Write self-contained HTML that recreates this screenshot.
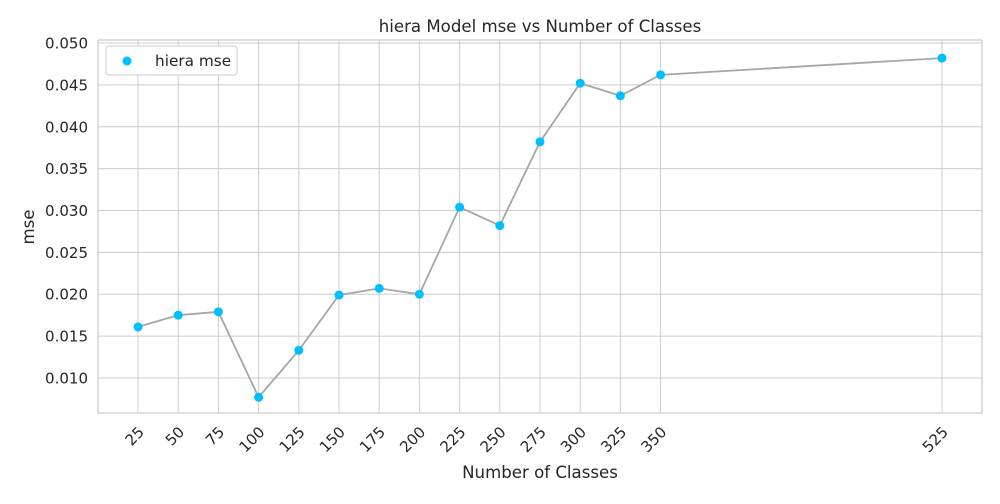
<!DOCTYPE html>
<html><head><meta charset="utf-8"><style>
body{margin:0;background:#fff;font-family:"DejaVu Sans","Liberation Sans",sans-serif;}
</style></head><body>
<svg id="chart" width="1000" height="500" xmlns="http://www.w3.org/2000/svg" font-family="DejaVu Sans, Liberation Sans, sans-serif">
<text x="540" y="32" text-anchor="middle" font-size="16.6" fill="#262626">hiera Model mse vs Number of Classes</text>
<g id="grid"></g><g id="axes"></g><g id="marks"></g>
<text x="540" y="478" text-anchor="middle" font-size="16.6" fill="#262626">Number of Classes</text>
<text x="34" y="227" text-anchor="middle" font-size="16.6" fill="#262626" transform="rotate(-90 34 227)">mse</text>
<g>
<rect x="106" y="46" width="131" height="29" rx="3" fill="#fff" stroke="#ccc"/>
<circle cx="127" cy="61" r="4.5" fill="#00bfff"/>
<text x="155" y="66" font-size="15.3" fill="#262626">hiera mse</text>
</g>
</svg>
<script>
const categories=[25,50,75,100,125,150,175,200,225,250,275,300,325,350,525];
const mseValues=[0.0161,0.0175,0.0179,0.0077,0.0133,0.0199,0.0207,0.0200,0.0304,0.0282,0.0382,0.0452,0.0437,0.0462,0.0482];
const yTicks=[0.010,0.015,0.020,0.025,0.030,0.035,0.040,0.045,0.050];
const L=98,R=982,T=40,B=413;
const xMin=0.12,xMax=549.9,yMin=0.00582,yMax=0.05036;
const xs=v=>L+(v-xMin)/(xMax-xMin)*(R-L);
const ys=v=>B-(v-yMin)/(yMax-yMin)*(B-T);
const NS="http://www.w3.org/2000/svg";
function mk(tag,attrs,parent,txt){const e=document.createElementNS(NS,tag);for(const k in attrs)e.setAttribute(k,attrs[k]);if(txt!==undefined)e.textContent=txt;document.getElementById(parent).appendChild(e);return e;}
yTicks.forEach(t=>{const y=ys(t);
const g=mk('line',{x1:L,x2:R,y1:y,y2:y,stroke:'#ccc','stroke-width':1},'grid');


const l=mk('text',{x:L-10,y:y+5.5,'text-anchor':'end','font-size':15,fill:'#262626'},'axes',t.toFixed(3));

});
categories.forEach(c=>{const x=xs(c);
const g=mk('line',{x1:x,x2:x,y1:T,y2:B,stroke:'#ccc','stroke-width':1},'grid');


const l=mk('text',{x:x+7,y:B+20,'text-anchor':'end','font-size':15,fill:'#262626',transform:`rotate(-45 ${x+7} ${B+20})`},'axes',String(c));

});
const fr=mk('rect',{x:L,y:T,width:R-L,height:B-T,fill:'none',stroke:'#ccc','stroke-width':1.2},'axes');


const pts=categories.map((c,i)=>xs(c)+','+ys(mseValues[i])).join(' ');
const pl=mk('polyline',{points:pts,fill:'none',stroke:'#a6a6a6','stroke-width':1.8},'marks');


categories.forEach((c,i)=>{const p=mk('circle',{cx:xs(c),cy:ys(mseValues[i]),r:4.5,fill:'#00bfff'},'marks');

});
</script>
</body></html>
